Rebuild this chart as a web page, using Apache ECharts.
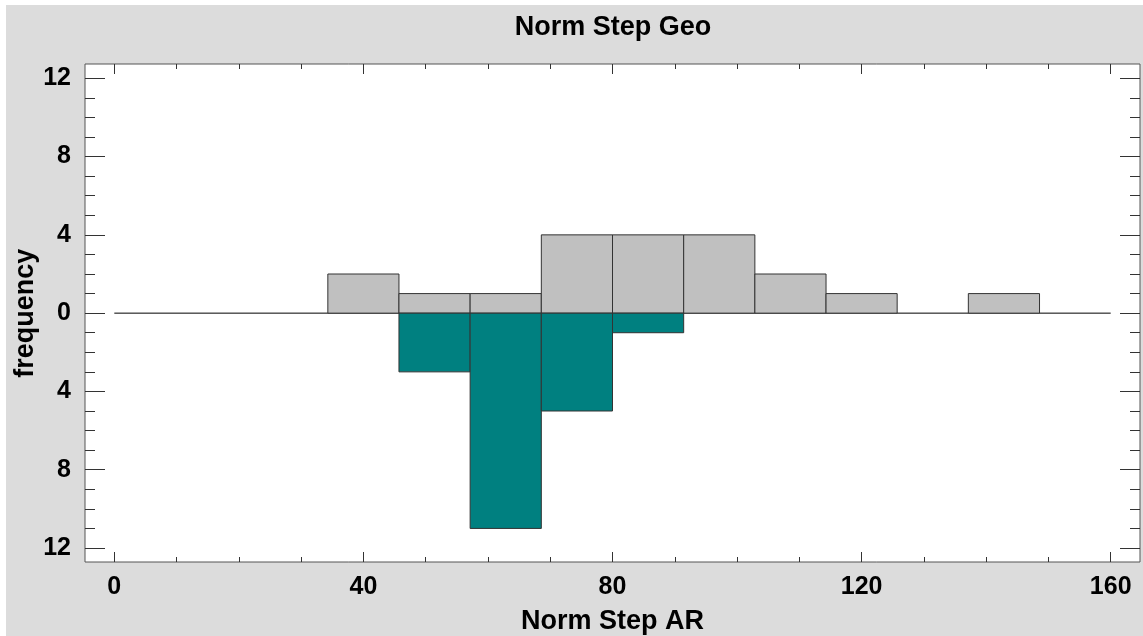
<!DOCTYPE html>
<html>
<head>
<meta charset="utf-8">
<title>Norm Step Geo</title>
<script src="https://cdn.jsdelivr.net/npm/echarts@6/dist/echarts.min.js"></script>
<style>
  html, body { margin: 0; padding: 0; background: #fff; }
  #chart {
    position: absolute;
    left: 6px;
    top: 5px;
    width: 1137px;
    height: 631px;
    background: #dcdcdc;
  }
</style>
</head>
<body>
<div id="chart"></div>
<script>
// bin edges of the histogram (Norm Step AR)
const binEdges = [34.29, 45.71, 57.14, 68.57, 80, 91.43, 102.86, 114.29, 125.71, 137.14, 148.57];
// counts per bin, upper (grey) histogram
const arCounts = [2, 1, 1, 4, 4, 4, 2, 1, 0, 1];
// counts per bin, lower (teal) histogram, drawn downwards
const geoCounts = [0, 3, 11, 5, 1, 0, 0, 0, 0, 0];
// baseline from 0 to 160
const baseline = [[0, 0], [160, 0]];

const FONT = "'Liberation Sans', Arial, sans-serif";

function toBins(counts, sign) {
  const rows = [];
  counts.forEach((c, i) => {
    if (c > 0) rows.push([binEdges[i], binEdges[i + 1], sign * c]);
  });
  return rows;
}

function histRect(fill) {
  return function (params, api) {
    const p0 = api.coord([api.value(0), 0]);
    const p1 = api.coord([api.value(1), api.value(2)]);
    return {
      type: 'rect',
      shape: {
        x: p0[0],
        y: Math.min(p0[1], p1[1]),
        width: p1[0] - p0[0],
        height: Math.abs(p1[1] - p0[1])
      },
      style: { fill: fill, stroke: '#333', lineWidth: 1 }
    };
  };
}

const tickStyle = { color: '#333', width: 1 };
const noLine = { show: false, onZero: false };

const chart = echarts.init(document.getElementById('chart'));
chart.setOption({
  animation: false,
  title: {
    text: 'Norm Step Geo',
    left: 607,
    top: 9,
    padding: 0,
    textAlign: 'center',
    textStyle: { fontFamily: FONT, fontSize: 27, fontWeight: 'bold', color: '#000' }
  },
  grid: [
    // data area: x 0..160, y -12..12
    { left: 108.3, right: 32.3, top: 73.3, bottom: 88, outerBoundsMode: 'none', containLabel: false },
    // plot frame
    {
      left: 79, right: 3, top: 59, bottom: 74,
      outerBoundsMode: 'none', containLabel: false,
      show: true, backgroundColor: '#fff', borderColor: '#555', borderWidth: 1
    }
  ],
  xAxis: [
    {
      type: 'value', gridIndex: 0, position: 'bottom', offset: 14,
      min: 0, max: 160, interval: 40,
      axisLine: noLine,
      axisTick: { inside: true, length: 10, lineStyle: tickStyle },
      minorTick: { show: true, splitNumber: 4, length: 5, lineStyle: tickStyle },
      splitLine: { show: false },
      axisLabel: { margin: 13, fontFamily: FONT, fontSize: 25, fontWeight: 'bold', color: '#000' },
      name: 'Norm Step AR',
      nameLocation: 'middle',
      nameGap: 46,
      nameTextStyle: { fontFamily: FONT, fontSize: 27, fontWeight: 'bold', color: '#000' }
    },
    {
      type: 'value', gridIndex: 0, position: 'top', offset: 14.3,
      min: 0, max: 160, interval: 40,
      axisLine: noLine,
      axisTick: { inside: true, length: 10, lineStyle: tickStyle },
      minorTick: { show: true, splitNumber: 4, length: 5, lineStyle: tickStyle },
      splitLine: { show: false },
      axisLabel: { show: false }
    }
  ],
  yAxis: [
    {
      type: 'value', gridIndex: 0, position: 'left', offset: 29.3,
      min: -12, max: 12, interval: 4,
      axisLine: noLine,
      axisTick: { inside: true, length: 20, lineStyle: tickStyle },
      minorTick: { show: true, splitNumber: 4, length: 10, lineStyle: tickStyle },
      splitLine: { show: false },
      axisLabel: {
        margin: 14, fontFamily: FONT, fontSize: 25, fontWeight: 'bold', color: '#000',
        formatter: v => String(Math.abs(v))
      },
      name: 'frequency',
      nameLocation: 'middle',
      nameRotate: 90,
      nameGap: 46,
      nameMoveOverlap: false,
      nameTextStyle: { fontFamily: FONT, fontSize: 27, fontWeight: 'bold', color: '#000' }
    },
    {
      type: 'value', gridIndex: 0, position: 'right', offset: 29.3,
      min: -12, max: 12, interval: 4,
      axisLine: noLine,
      axisTick: { inside: true, length: 20, lineStyle: tickStyle },
      minorTick: { show: true, splitNumber: 4, length: 10, lineStyle: tickStyle },
      splitLine: { show: false },
      axisLabel: { show: false }
    }
  ],
  series: [
    {
      name: 'baseline',
      type: 'line',
      xAxisIndex: 0, yAxisIndex: 0,
      data: baseline,
      symbol: 'none',
      lineStyle: { color: '#000', width: 1 },
      z: 1
    },
    {
      name: 'AR',
      type: 'custom',
      xAxisIndex: 0, yAxisIndex: 0,
      renderItem: histRect('#c0c0c0'),
      encode: { x: [0, 1], y: 2 },
      data: toBins(arCounts, 1),
      z: 2
    },
    {
      name: 'Geo',
      type: 'custom',
      xAxisIndex: 0, yAxisIndex: 0,
      renderItem: histRect('#008080'),
      encode: { x: [0, 1], y: 2 },
      data: toBins(geoCounts, -1),
      z: 2
    }
  ]
});
</script>
</body>
</html>
